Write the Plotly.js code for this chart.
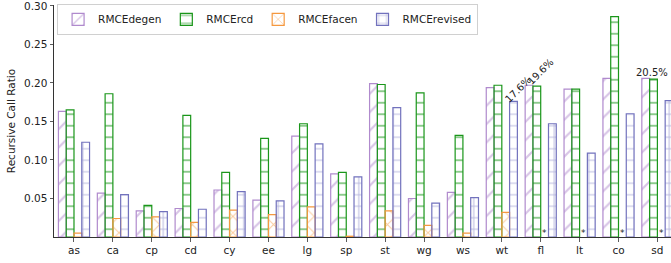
<!DOCTYPE html>
<html>
<head>
<meta charset="utf-8">
<script src="https://cdn.plot.ly/plotly-3.0.1.min.js"></script>
<style>html,body{margin:0;padding:0;background:#fff;}#chart{width:671px;height:263px;}</style>
</head>
<body>
<div id="chart"></div>
<script>
const categories = ['as','ca','cp','cd','cy','ee','lg','sp','st','wg','ws','wt','fl','lt','co','sd'];
const degen   = [0.163,0.057,0.034,0.037,0.061,0.048,0.131,0.082,0.199,0.050,0.058,0.194,0.197,0.192,0.206,0.206];
const rcd     = [0.165,0.186,0.041,0.158,0.084,0.128,0.147,0.084,0.198,0.187,0.132,0.197,0.196,0.192,0.286,0.205];
const facen   = [0.005,0.024,0.026,0.019,0.035,0.029,0.039,0.001,0.034,0.015,0.005,0.032,null,null,null,null];
const revised = [0.123,0.055,0.033,0.036,0.059,0.047,0.121,0.078,0.168,0.044,0.051,0.176,0.147,0.109,0.160,0.177];
const seriesNames = ['RMCEdegen','RMCErcd','RMCEfacen','RMCErevised'];
const yTicks = [0.05,0.10,0.15,0.20,0.25,0.30];
const missingCats = ['fl','lt','co','sd'];
const labelTexts = ['17.6%','19.6%','20.5%'];

const FONT = 'DejaVu Sans, sans-serif';
function mk(name, y, color, shape, size, sol) {
  return {
    type: 'bar', name: name, x: categories, y: y,
    marker: {
      color: 'rgba(255,255,255,0)',
      line: {color: color, width: 1.2},
      pattern: {shape: shape, fgcolor: color, bgcolor: 'rgba(255,255,255,0)', size: size, solidity: sol, fillmode: 'overlay'}
    }
  };
}
const traces = [
  mk(seriesNames[0], degen, '#b08acd', '/', 13, 0.17),
  mk(seriesNames[1], rcd, '#1a961a', '-', 11.5, 0.17),
  mk(seriesNames[2], facen, '#f5983f', 'x', 11.5, 0.17),
  mk(seriesNames[3], revised, '#7272bd', '+', 11.5, 0.17)
];

const annotations = [
  {x: 'wt', y: revised[11], text: labelTexts[0], textangle: -45, showarrow: false, xanchor: 'left', yanchor: 'bottom', xshift: -2, yshift: -6, font: {family: FONT, size: 10, color: '#222'}},
  {x: 'fl', y: rcd[12], text: labelTexts[1], textangle: -45, showarrow: false, xanchor: 'left', yanchor: 'bottom', xshift: -18, yshift: -4, font: {family: FONT, size: 10, color: '#222'}},
  {x: 'sd', y: degen[15], text: labelTexts[2], showarrow: false, xanchor: 'center', yanchor: 'bottom', xshift: -5, yshift: -2, font: {family: FONT, size: 10, color: '#222'}}
];
missingCats.forEach(c => annotations.push({x: c, y: 0, text: '*', showarrow: false, xanchor: 'center', yanchor: 'bottom', xshift: 4, yshift: -3, font: {family: FONT, size: 9, color: '#222'}}));

const layout = {
  width: 671, height: 263,
  margin: {l: 54, r: 0, t: 5, b: 26},
  paper_bgcolor: '#fff', plot_bgcolor: '#fff',
  font: {family: FONT, size: 10.5, color: '#222'},
  barmode: 'group', bargap: 0.2, bargroupgap: 0,
  showlegend: true,
  legend: {orientation: 'h', x: 0.005, y: 1.005, xanchor: 'left', yanchor: 'top',
    bgcolor: 'rgba(255,255,255,0.85)', bordercolor: '#d0d0d0', borderwidth: 1,
    font: {family: FONT, size: 10.5, color: '#222'}, itemwidth: 30, traceorder: 'normal'},
  xaxis: {type: 'category', range: [-0.514, 15.35], showline: true, linecolor: '#333', linewidth: 1,
    ticks: 'outside', ticklen: 3.5, tickwidth: 0.8, tickcolor: '#333', showgrid: false, zeroline: false,
    tickfont: {family: FONT, size: 10.5, color: '#222'}},
  yaxis: {range: [0, 0.3012], tickvals: yTicks, ticktext: yTicks.map(v => v.toFixed(2)),
    ticklabeloverflow: 'allow',
    showline: true, linecolor: '#333', linewidth: 1, ticks: 'outside', ticklen: 3.5, tickwidth: 0.8, tickcolor: '#333',
    showgrid: false, zeroline: false, tickfont: {family: FONT, size: 10.5, color: '#222'},
    title: {text: 'Recursive Call Ratio', font: {family: FONT, size: 10.5, color: '#222'}, standoff: 6}},
  annotations: annotations
};
Plotly.newPlot('chart', traces, layout, {displayModeBar: false, staticPlot: true});
</script>
</body>
</html>
